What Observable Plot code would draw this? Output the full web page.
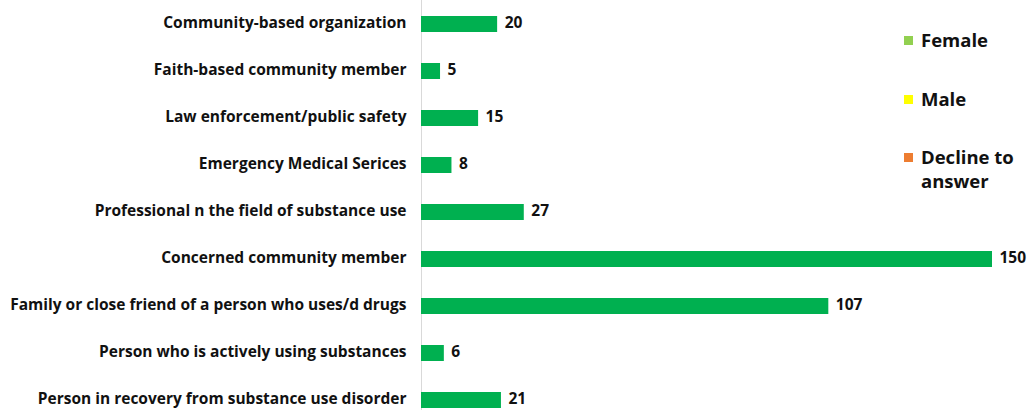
<!DOCTYPE html>
<html>
<head>
<meta charset="utf-8">
<script src="https://cdn.jsdelivr.net/npm/d3@7"></script>
<script src="https://cdn.jsdelivr.net/npm/@observablehq/plot@0.6"></script>
<style>
  html, body { margin: 0; padding: 0; background: #fff; }
  #wrap { position: relative; width: 1028px; height: 410px; overflow: hidden; }
  #legend { position: absolute; left: 904px; top: 0; font-family: "Open Sans", "Liberation Sans", Arial, sans-serif; font-weight: bold; font-size: 18.5px; color: #111; }
  .item { position: absolute; left: 0; width: 124px; display: flex; align-items: flex-start; line-height: 24px; }
  .sw { width: 9px; height: 9px; margin-top: 8px; margin-right: 8px; flex: none; }
</style>
</head>
<body>
<div id="wrap"><div id="chart"></div><div id="legend"></div></div>
<script>
const categories = [
  "Community-based organization",
  "Faith-based community member",
  "Law enforcement/public safety",
  "Emergency Medical Serices",
  "Professional n the field of substance use",
  "Concerned community member",
  "Family or close friend of a person who uses/d drugs",
  "Person who is actively using substances",
  "Person in recovery from substance use disorder"
];
const values = [20, 5, 15, 8, 27, 150, 107, 6, 21];
const legendLabels = ["Female", "Male", "Decline to answer"];
const legendColors = ["#92D050", "#FFFF00", "#ED7D31"];
const barColor = "#00B050";

const data = categories.map((c, i) => ({category: c, value: values[i]}));
const font = "Open Sans, Liberation Sans, Arial, sans-serif";

const chart = Plot.plot({
  width: 1028,
  height: 410,
  marginLeft: 421,
  marginRight: 36,
  marginTop: 0,
  marginBottom: 0,
  style: {fontFamily: font, background: "#fff", color: "#111"},
  x: {domain: [0, 150], axis: null},
  y: {domain: categories, range: [-18, 441], padding: 0.663, label: null},
  marks: [
    Plot.axisY({tickSize: 0, tickPadding: 15, fontSize: 15.5, fontWeight: "bold", label: null, dy: -1.5}),
    Plot.ruleX([0], {stroke: "#d9d9d9", strokeWidth: 1}),
    Plot.barX(data, {x: "value", y: "category", fill: barColor}),
    Plot.text(data, {x: "value", y: "category", text: d => String(d.value), textAnchor: "start", dx: 7, dy: -1, fontSize: 15.5, fontWeight: "bold", fill: "#111"})
  ]
});
document.getElementById("chart").appendChild(chart);

const tops = [28, 87, 145];
const legend = document.getElementById("legend");
legendLabels.forEach((l, i) => {
  const it = document.createElement("div");
  it.className = "item";
  it.style.top = tops[i] + "px";
  const sw = document.createElement("span");
  sw.className = "sw";
  sw.style.background = legendColors[i];
  const tx = document.createElement("span");
  tx.textContent = l;
  it.appendChild(sw); it.appendChild(tx);
  legend.appendChild(it);
});
</script>
</body>
</html>
